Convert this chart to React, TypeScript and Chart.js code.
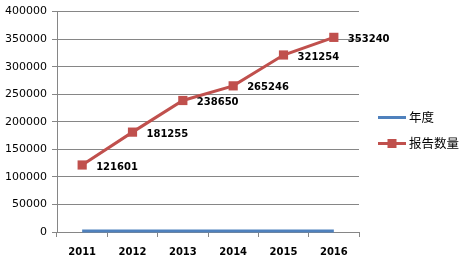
import React, { useEffect, useRef } from "react";
import { Chart, registerables } from "chart.js";

Chart.register(...registerables);

const categories = ["2011", "2012", "2013", "2014", "2015", "2016"];
const yearSeries = [2011, 2012, 2013, 2014, 2015, 2016];
const reportSeries = [121601, 181255, 238650, 265246, 321254, 353240];
const seriesNames = ["年度", "报告数量"];
const yMin = 0;
const yMax = 400000;
const yStep = 50000;

const BLUE = "#4F81BD";
const RED = "#C0504D";
const GRID = "#868686";

const dataLabelPlugin = {
  id: "dataLabelPlugin",
  afterDatasetsDraw(chart: any) {
    const ctx = chart.ctx;
    const meta = chart.getDatasetMeta(1);
    const ds = chart.data.datasets[1];
    ctx.save();
    ctx.font = "bold 10px 'DejaVu Sans'";
    ctx.fillStyle = "#000";
    ctx.textAlign = "left";
    ctx.textBaseline = "middle";
    meta.data.forEach((pt: any, i: number) => {
      ctx.fillText(String(ds.data[i]), pt.x + 14, pt.y + 2);
    });
    ctx.restore();
  },
};

const legendPlugin = {
  id: "customLegend",
  afterDraw(chart: any) {
    const ctx = chart.ctx;
    const area = chart.chartArea;
    const x0 = area.right + 19;
    const ys = [117.5, 143.5];
    ctx.save();
    chart.data.datasets.forEach((ds: any, i: number) => {
      const y = ys[i];
      ctx.strokeStyle = ds.borderColor;
      ctx.lineWidth = 3;
      ctx.beginPath();
      ctx.moveTo(x0, y);
      ctx.lineTo(x0 + 28, y);
      ctx.stroke();
      if (ds.pointRadius > 0) {
        ctx.fillStyle = ds.borderColor;
        ctx.fillRect(x0 + 14 - 4.5, y - 4.5, 9, 9);
      }
      ctx.fillStyle = "#000";
      ctx.font = "12.5px 'Noto Sans CJK SC'";
      ctx.textAlign = "left";
      ctx.textBaseline = "middle";
      ctx.fillText(ds.label, x0 + 31, y);
    });
    ctx.restore();
  },
};

export default function App() {
  const ref = useRef<HTMLCanvasElement | null>(null);
  useEffect(() => {
    if (!ref.current) return;
    const chart = new Chart(ref.current, {
      type: "line",
      data: {
        labels: categories,
        datasets: [
          {
            label: seriesNames[0],
            data: yearSeries,
            borderColor: BLUE,
            backgroundColor: BLUE,
            borderWidth: 3,
            pointRadius: 0,
            pointHoverRadius: 0,
            tension: 0,
            clip: false as any,
          },
          {
            label: seriesNames[1],
            data: reportSeries,
            borderColor: RED,
            backgroundColor: RED,
            borderWidth: 3,
            pointStyle: "rect",
            pointRadius: 6.5,
            pointBackgroundColor: RED,
            pointBorderColor: RED,
            pointBorderWidth: 0,
            tension: 0,
            clip: false as any,
          },
        ],
      },
      options: {
        responsive: false,
        animation: false,
        layout: { padding: { top: 11, right: 105, left: 0, bottom: 0 } },
        plugins: {
          legend: { display: false },
          tooltip: { enabled: false },
        },
        scales: {
          x: {
            type: "category",
            offset: true,
            grid: {
              offset: true,
              drawOnChartArea: false,
              drawTicks: true,
              tickLength: 5,
              color: GRID,
            },
            border: { display: true, color: GRID, width: 1 },
            ticks: {
              color: "#000",
              font: { family: "DejaVu Sans", size: 10, weight: "bold" },
              padding: 9,
              maxRotation: 0,
            },
            afterFit(scale: any) {
              scale.height = 28;
            },
          },
          y: {
            min: yMin,
            max: yMax,
            grid: {
              color: GRID,
              lineWidth: 1,
              drawTicks: true,
              tickLength: 5,
            },
            border: { display: true, color: GRID, width: 1 },
            ticks: {
              stepSize: yStep,
              color: "#000",
              font: { family: "DejaVu Sans", size: 11 },
              padding: 5,
              callback: (v: any) => String(v),
            },
            afterFit(scale: any) {
              scale.width = 57;
            },
          },
        },
      },
      plugins: [dataLabelPlugin, legendPlugin],
    });
    return () => chart.destroy();
  }, []);
  return (
    <div style={{ position: "fixed", left: 0, top: 0, width: 464, height: 260, background: "#fff" }}>
      <canvas ref={ref} width={464} height={260} style={{ width: 464, height: 260 }} />
    </div>
  );
}
